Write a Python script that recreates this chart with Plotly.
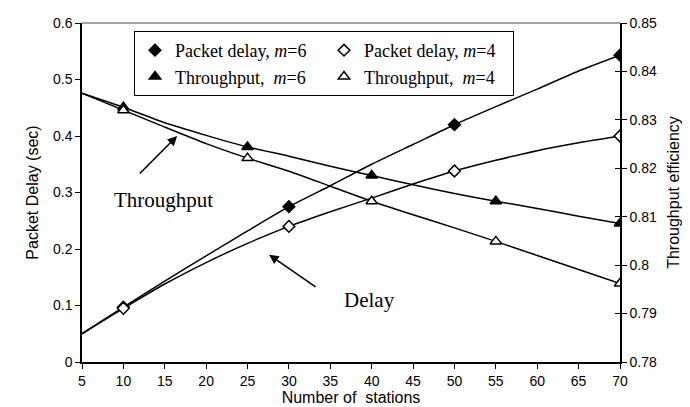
import plotly.graph_objects as go

# ---- data ----
stations = [5, 10, 15, 20, 25, 30, 35, 40, 45, 50, 55, 60, 65, 70]
delay_m6 = [0.05, 0.097, 0.143, 0.188, 0.232, 0.275, 0.312, 0.35, 0.385, 0.42, 0.452, 0.483, 0.515, 0.543]
delay_m4 = [0.05, 0.095, 0.138, 0.176, 0.21, 0.24, 0.266, 0.29, 0.315, 0.338, 0.357, 0.374, 0.388, 0.40]
thr_m6 = [0.8355, 0.8326, 0.8294, 0.8268, 0.8244, 0.8225, 0.8204, 0.8185, 0.8166, 0.8148, 0.8132, 0.8117, 0.8101, 0.8086]
thr_m4 = [0.8355, 0.832, 0.8285, 0.8251, 0.8221, 0.8194, 0.8163, 0.8132, 0.8104, 0.8077, 0.8049, 0.802, 0.7991, 0.7962]
delay_marker_x = [10, 30, 50, 70]
thr_marker_x = [10, 25, 40, 55, 70]
x_ticks = list(range(5, 71, 5))
left_ticks = [0, 0.1, 0.2, 0.3, 0.4, 0.5, 0.6]
right_ticks = [0.78, 0.79, 0.80, 0.81, 0.82, 0.83, 0.84, 0.85]

def pick(xs, ys, sel):
    return [y for x, y in zip(xs, ys) if x in sel]

fig = go.Figure()
LINE = dict(color="black", width=1.5, shape="spline", smoothing=0.6)

series = [
    ("Packet delay, <i>m</i>=6", delay_m6, "y", delay_marker_x, "diamond", "black", 9),
    ("Packet delay, <i>m</i>=4", delay_m4, "y", delay_marker_x, "diamond", "white", 9),
    ("Throughput,&nbsp; <i>m</i>=6", thr_m6, "y2", thr_marker_x, "triangle-up", "black", 10),
    ("Throughput,&nbsp; <i>m</i>=4", thr_m4, "y2", thr_marker_x, "triangle-up", "white", 10),
]
for name, ys, yax, msel, sym, col, size in series:
    fig.add_trace(go.Scatter(x=stations, y=ys, yaxis=yax, mode="lines",
                             line=LINE, showlegend=False, hoverinfo="skip"))
for name, ys, yax, msel, sym, col, size in series:
    mx = [x for x in stations if x in msel]
    fig.add_trace(go.Scatter(x=mx, y=pick(stations, ys, msel), yaxis=yax, mode="markers",
                             name=name,
                             marker=dict(symbol=sym, size=size, color=col,
                                         line=dict(color="black", width=1.5))))

fig.add_trace(go.Scatter(x=[None], y=[None], yaxis="y3", showlegend=False, hoverinfo="skip"))

AX_FONT = dict(family="Liberation Sans, Arial", size=14, color="black")
TITLE_FONT = dict(family="Liberation Sans, Arial", size=16, color="black")
SERIF = "Liberation Serif, Times New Roman"

fig.update_layout(
    width=690, height=407,
    margin=dict(l=74, r=78, t=15, b=53),
    paper_bgcolor="white", plot_bgcolor="white",
    xaxis=dict(range=[5, 70], tickvals=x_ticks, ticks="outside", ticklen=5, tickcolor="black",
               showline=True, linecolor="black", linewidth=1.5, showgrid=False, zeroline=False,
               automargin=False,
               tickfont=AX_FONT, title=dict(text="Number of&nbsp; stations", font=TITLE_FONT, standoff=2)),
    yaxis=dict(range=[0, 0.6], tickvals=left_ticks, ticks="outside", ticklen=5, tickcolor="black",
               showline=True, linecolor="black", linewidth=1.5, showgrid=False, zeroline=False,
               automargin=False,
               tickfont=AX_FONT, title=dict(text="Packet Delay (sec)", font=TITLE_FONT, standoff=10)),
    yaxis2=dict(range=[0.78, 0.85], tickvals=right_ticks, ticktext=[f"{v:g}" for v in right_ticks],
                overlaying="y", side="right", anchor="x",
                ticks="outside", ticklen=5, tickcolor="black",
                showline=True, linecolor="black", linewidth=1.5, showgrid=False, zeroline=False,
                automargin=False,
                tickfont=AX_FONT, title=dict(text="Throughput efficiency", font=TITLE_FONT, standoff=12)),
    yaxis3=dict(range=[0.78, 0.85], tickvals=right_ticks, overlaying="y", side="right", anchor="x",
                ticks="inside", ticklen=5, tickcolor="black", showticklabels=False, automargin=False,
                showline=False, showgrid=False, zeroline=False),
    legend=dict(x=(126 - 74) / 538, y=(354 - 23) / 339, xanchor="left", yanchor="top",
                orientation="h", entrywidth=144, itemwidth=30,
                bordercolor="black", borderwidth=1, bgcolor="white",
                font=dict(family=SERIF, size=18, color="black"),
                tracegroupgap=0),
    shapes=[dict(type="line", xref="paper", yref="paper", x0=0, x1=1, y0=1, y1=1,
                 line=dict(color="#888888", width=1.5))],
    annotations=[
        dict(x=16.5, y=0.40, ax=11.8, ay=0.331, xref="x", yref="y", axref="x", ayref="y",
             showarrow=True, arrowhead=2, arrowsize=1.2, arrowwidth=1.6, arrowcolor="black", text=""),
        dict(x=27.6, y=0.19, ax=33.4, ay=0.131, xref="x", yref="y", axref="x", ayref="y",
             showarrow=True, arrowhead=2, arrowsize=1.2, arrowwidth=1.6, arrowcolor="black", text=""),
        dict(x=14.9, y=0.287, xref="x", yref="y", text="Throughput", showarrow=False,
             font=dict(family=SERIF, size=21, color="black")),
        dict(x=39.7, y=0.11, xref="x", yref="y", text="Delay", showarrow=False,
             font=dict(family=SERIF, size=21, color="black")),
    ],
)

fig.write_html("out.html")
